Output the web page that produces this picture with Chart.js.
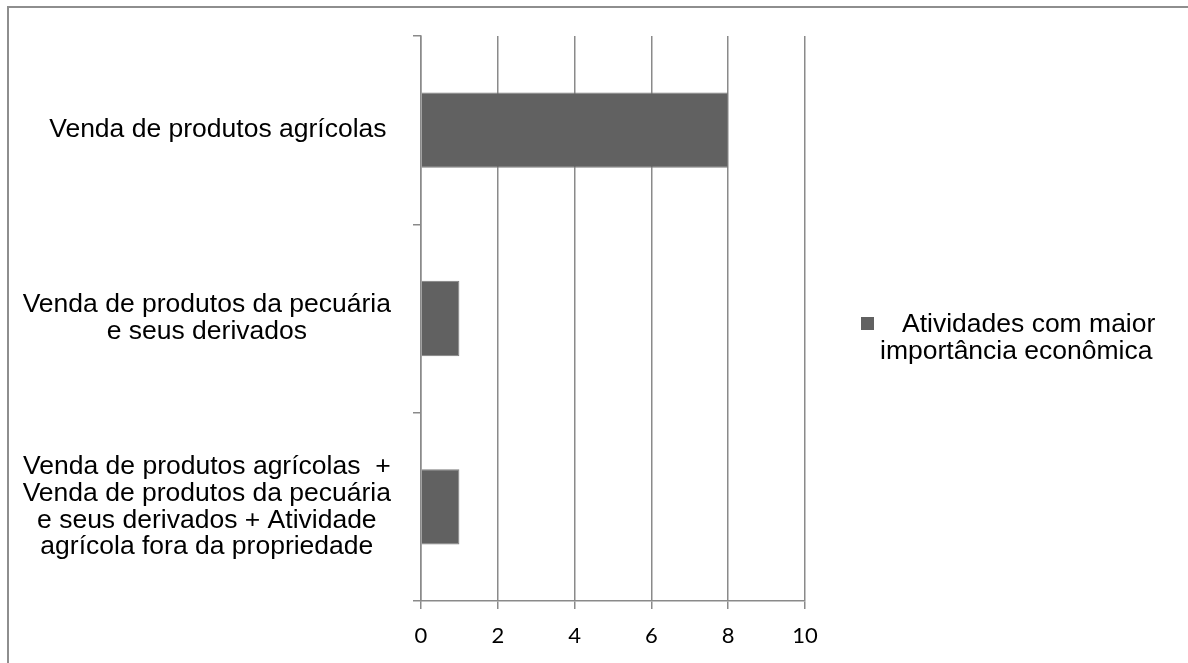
<!DOCTYPE html>
<html>
<head>
<meta charset="utf-8">
<script src="https://cdn.jsdelivr.net/npm/chart.js@4"></script>
<style>
  html, body { margin: 0; padding: 0; background: #ffffff; overflow: hidden; }
  canvas { display: block; }
</style>
</head>
<body>
<canvas id="c" width="1188" height="663"></canvas>
<script>
// Categories (multi-line labels), one series
const categories = [
  ['   Venda de produtos agrícolas'],
  ['Venda de produtos da pecuária', 'e seus derivados'],
  ['Venda de produtos agrícolas  +', 'Venda de produtos da pecuária', 'e seus derivados + Atividade', 'agrícola fora da propriedade']
];
const seriesName = 'Atividades com maior importância econômica';
const seriesLegendLines = ['Atividades com maior', 'importância econômica'];
const seriesValues = [8, 1, 1];
const axisMin = 0;
const axisMax = 10;
const axisStep = 2;

const barFill = '#616161';
const gridColor = '#8a8a8a';

// Outer chart frame: only the top and left edges fall inside the canvas
const outerFrame = {
  id: 'outerFrame',
  beforeDraw(chart) {
    const ctx = chart.ctx;
    ctx.save();
    ctx.strokeStyle = '#8e8e8e';
    ctx.lineWidth = 2;
    ctx.beginPath();
    ctx.moveTo(8, chart.height + 2);
    ctx.lineTo(8, 7);
    ctx.lineTo(chart.width + 2, 7);
    ctx.stroke();
    ctx.restore();
  }
};

// Legend drawn to the right of the plot, text wrapped over two lines
const sideLegend = {
  id: 'sideLegend',
  afterDraw(chart) {
    const ctx = chart.ctx;
    const ds = chart.data.datasets[0];
    const x0 = chart.chartArea.right;
    ctx.save();
    ctx.fillStyle = ds.backgroundColor;
    ctx.fillRect(x0 + 56, 317, 13, 13);
    ctx.fillStyle = '#000000';
    ctx.font = '26.5px "Liberation Sans", Arial, sans-serif';
    ctx.textBaseline = 'alphabetic';
    ctx.textAlign = 'left';
    ctx.fillText(seriesLegendLines[0], x0 + 97, 332);
    ctx.fillText(seriesLegendLines[1], x0 + 75, 359);
    ctx.restore();
  }
};

new Chart(document.getElementById('c'), {
  type: 'bar',
  data: {
    labels: categories,
    datasets: [{
      label: seriesName,
      data: seriesValues,
      backgroundColor: barFill,
      borderColor: '#7e7e7e',
      borderWidth: 1,
      categoryPercentage: 1.0,
      barPercentage: 0.4
    }]
  },
  options: {
    indexAxis: 'y',
    responsive: false,
    animation: false,
    layout: { padding: { left: 0, top: 36, right: 383, bottom: 0 } },
    plugins: {
      legend: { display: false },
      tooltip: { enabled: false }
    },
    scales: {
      x: {
        min: axisMin,
        max: axisMax,
        ticks: {
          stepSize: axisStep,
          color: '#000000',
          padding: 14,
          font: { family: 'Lato, "Open Sans", sans-serif', size: 22, lineHeight: 1.2 }
        },
        grid: {
          color: gridColor,
          lineWidth: 1.5,
          tickLength: 8,
          drawTicks: true
        },
        border: { display: true, color: gridColor, width: 1.5 },
        afterFit(scale) { scale.height = 62; scale.paddingLeft = 0; scale.paddingRight = 0; }
      },
      y: {
        offset: true,
        ticks: {
          color: '#000000',
          crossAlign: 'center',
          padding: 22,
          font: { family: '"Liberation Sans", Arial, sans-serif', size: 26.5, lineHeight: 1.01 }
        },
        grid: {
          offset: true,
          drawOnChartArea: false,
          drawTicks: true,
          tickLength: 8,
          color: gridColor,
          lineWidth: 1.5
        },
        border: { display: true, color: gridColor, width: 1.5 },
        afterFit(scale) { scale.width = 421; scale.paddingTop = 0; scale.paddingBottom = 0; }
      }
    }
  },
  plugins: [outerFrame, sideLegend]
});
</script>
</body>
</html>
